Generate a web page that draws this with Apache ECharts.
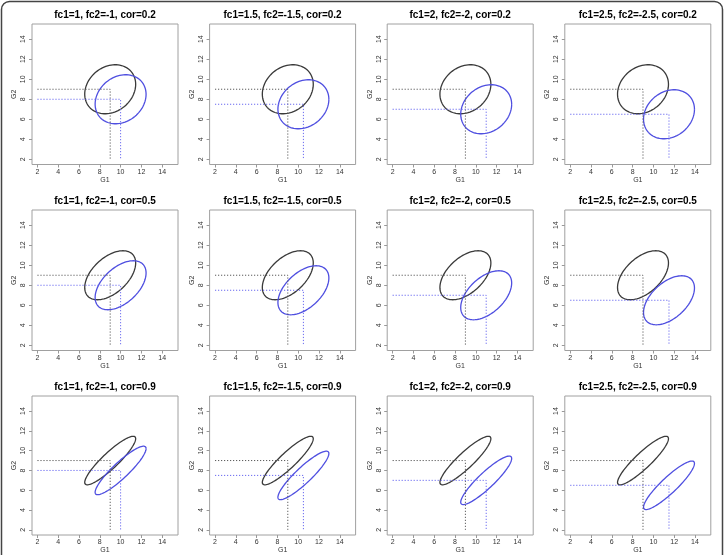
<!DOCTYPE html>
<html>
<head>
<meta charset="utf-8">
<script src="https://cdn.jsdelivr.net/npm/echarts@6/dist/echarts.min.js"></script>
<style>
  html, body { margin: 0; padding: 0; background: #fff; }
  #chart { width: 726px; height: 555px; }
</style>
</head>
<body>
<div id="chart"></div>
<script>
// panel parameters (columns: fold changes, rows: correlation)
var fc1 = [1, 1.5, 2, 2.5];
var fc2 = [-1, -1.5, -2, -2.5];
var cors = [0.2, 0.5, 0.9];

// ellipse centres
var blackCenter = [9, 9];
var blueX = [10, 10.5, 11, 11.5];
var blueY = [8, 7.5, 7, 6.5];
var ellipseRadius = 2.45;   // 95% contour, sd = 1

// axes
var axisMin = 1.48;
var axisMax = 15.52;
var tickVals = [2, 4, 6, 8, 10, 12, 14];
var refStart = 2;

(function () {
    var myChart = echarts.init(document.getElementById('chart'));

    var colX0 = 32, colStep = 177.6, rowY0 = 24, rowStep = 186;
    var gridW = 146, gridH = 140.5;
    var fontFam = '"Liberation Sans", Arial, sans-serif';

    var grids = [], xAxes = [], yAxes = [], series = [], graphics = [];

    function ellipseItem(params, api) {
        var cx = api.value(0), cy = api.value(1), rho = api.value(2);
        var s = Math.sqrt(1 - rho * rho);
        var pts = [];
        for (var k = 0; k <= 90; k++) {
            var t = 2 * Math.PI * k / 90;
            pts.push(api.coord([
                cx + ellipseRadius * Math.cos(t),
                cy + ellipseRadius * (rho * Math.cos(t) + s * Math.sin(t))
            ]));
        }
        return {
            type: 'polyline',
            shape: {points: pts},
            style: {
                fill: 'none',
                stroke: params.dataIndex === 0 ? '#3a3a3a' : '#4f4fe0',
                lineWidth: 1.3
            }
        };
    }

    function axisOpt(idx, name, isY) {
        return {
            gridIndex: idx, type: 'value', min: axisMin, max: axisMax,
            name: name, nameLocation: 'middle', nameGap: isY ? 14 : 12, nameRotate: isY ? 90 : 0,
            nameTextStyle: {fontSize: 7, color: '#333', fontFamily: fontFam},
            axisLine: {show: false, onZero: false},
            axisTick: {show: true, length: 3, lineStyle: {color: '#999'}, customValues: tickVals.slice()},
            axisLabel: {fontSize: 7, color: '#333', margin: isY ? 5 : 4, rotate: isY ? 90 : 0,
                fontFamily: fontFam, customValues: tickVals.slice()},
            splitLine: {show: false}
        };
    }

    for (var r = 0; r < cors.length; r++) {
        for (var c = 0; c < fc1.length; c++) {
            var idx = r * fc1.length + c;
            var gLeft = colX0 + colStep * c;
            var gTop = rowY0 + rowStep * r;
            grids.push({
                left: gLeft, top: gTop, width: gridW, height: gridH,
                show: true, borderColor: '#a0a0a0', borderWidth: 1
            });
            xAxes.push(axisOpt(idx, 'G1', false));
            yAxes.push(axisOpt(idx, 'G2', true));

            var bx = blueX[c], by = blueY[c];
            var kx = blackCenter[0], ky = blackCenter[1];
            series.push({
                type: 'line', xAxisIndex: idx, yAxisIndex: idx, symbol: 'none', silent: true,
                data: [[refStart, ky], [kx, ky], [kx, refStart]],
                lineStyle: {type: [1.2, 1.8], color: '#5a5a5a', width: 1}
            });
            series.push({
                type: 'line', xAxisIndex: idx, yAxisIndex: idx, symbol: 'none', silent: true,
                data: [[refStart, by], [bx, by], [bx, refStart]],
                lineStyle: {type: [1.2, 1.8], color: '#6a6af0', width: 1}
            });
            series.push({
                type: 'custom', xAxisIndex: idx, yAxisIndex: idx, silent: true,
                renderItem: ellipseItem,
                encode: {x: 0, y: 1},
                data: [[kx, ky, cors[r]], [bx, by, cors[r]]]
            });

            graphics.push({
                type: 'text', x: gLeft + gridW / 2, y: 15 + rowStep * r,
                style: {
                    text: 'fc1=' + fc1[c] + ', fc2=' + fc2[c] + ', cor=' + cors[r],
                    fill: '#000', font: 'bold 10px ' + fontFam,
                    textAlign: 'center', textVerticalAlign: 'middle'
                }
            });
        }
    }

    // outer rounded frame (cut off at the bottom)
    graphics.push({
        type: 'rect', shape: {x: 1.5, y: 1.5, width: 721, height: 580, r: 8},
        style: {fill: 'none', stroke: '#444', lineWidth: 1.5}, silent: true
    });

    myChart.setOption({
        animation: false,
        grid: grids,
        xAxis: xAxes,
        yAxis: yAxes,
        series: series,
        graphic: graphics
    });
})();
</script>
</body>
</html>
